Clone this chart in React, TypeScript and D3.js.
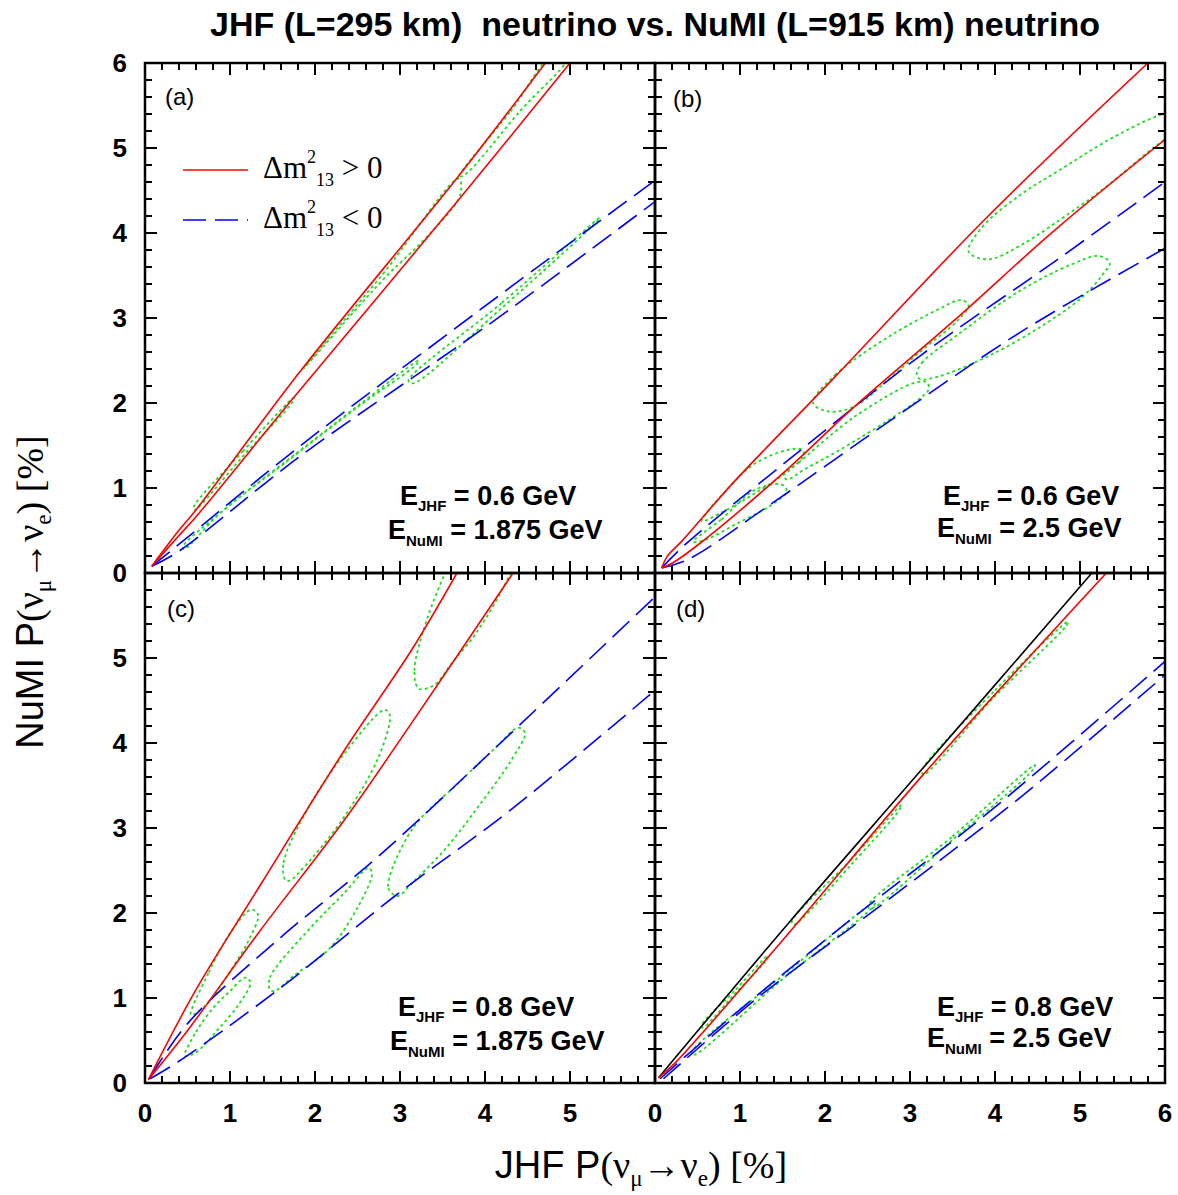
import React from 'react'
import * as d3 from 'd3'

// all curves are [JHF P, NuMI P] in percent

// (a) E_JHF = 0.6 GeV, E_NuMI = 1.875 GeV
const redA = [
  [[0.08, 0.08], [0.39, 0.49], [0.59, 0.73], [1.84, 2.39], [3.69, 4.67], [4.71, 6.0]],
  [[0.08, 0.08], [0.39, 0.43], [0.59, 0.65], [1.73, 2.04], [3.69, 4.39], [5.0, 6.0]],
]
const blueA = [
  [[0.08, 0.08], [0.39, 0.33], [1.82, 1.49], [3.92, 3.08], [6.0, 4.62]],
  [[0.08, 0.08], [0.39, 0.25], [1.82, 1.37], [4.04, 2.92], [6.0, 4.37]],
]
const greenA = [
  [[0.57, 0.77], [1.15, 1.43], [1.75, 2.06], [1.74, 2.02], [1.15, 1.37], [0.58, 0.74]],
  [[1.86, 2.4], [2.8, 3.52], [3.69, 4.64], [3.71, 4.45], [3.35, 3.99], [2.8, 3.45]],
  [[3.69, 4.66], [4.3, 5.43], [4.8, 6.1], [5.0, 6.1], [4.4, 5.42], [3.78, 4.7]],
  [[0.44, 0.3], [1.0, 0.8], [1.9, 1.5], [2.6, 2.04], [3.22, 2.5], [3.2, 2.46], [2.5, 1.95], [1.6, 1.26], [0.9, 0.72], [0.46, 0.28]],
  [[3.1, 2.26], [4.2, 3.18], [5.35, 4.18], [5.3, 4.12], [4.2, 3.12], [3.15, 2.23]],
]

// (b) E_JHF = 0.6 GeV, E_NuMI = 2.5 GeV
const redB = [
  [[0.08, 0.06], [0.14, 0.19], [0.33, 0.39], [0.9, 1.04], [2.12, 2.31], [3.92, 4.2], [5.8, 6.0]],
  [[0.08, 0.06], [0.21, 0.12], [0.53, 0.35], [1.49, 1.16], [2.35, 1.96], [3.53, 2.98], [4.71, 4.04], [6.0, 5.1]],
]
const blueB = [
  [[0.08, 0.06], [0.35, 0.33], [1.57, 1.33], [3.14, 2.57], [4.71, 3.67], [6.0, 4.6]],
  [[0.08, 0.06], [0.39, 0.16], [1.29, 0.76], [2.75, 1.78], [4.31, 2.84], [6.0, 3.82]],
]
const greenB = [
  [[0.55, 0.61], [0.9, 1.04], [1.18, 1.29], [1.57, 1.45], [1.73, 1.45], [1.75, 1.39], [1.57, 1.2], [1.18, 0.94], [0.78, 0.71]],
  [[0.45, 0.37], [0.78, 0.63], [1.18, 0.98], [1.49, 1.04], [1.55, 0.96], [1.37, 0.8], [0.98, 0.59], [0.59, 0.39]],
  [[1.86, 2.0], [2.12, 2.33], [2.75, 2.78], [3.33, 3.1], [3.6, 3.21], [3.69, 3.15], [3.57, 2.98], [3.14, 2.62], [2.75, 2.28], [2.35, 1.96], [2.04, 1.9]],
  [[1.51, 1.16], [1.69, 1.3], [2.35, 1.84], [3.06, 2.24], [3.2, 2.24], [3.22, 2.16], [3.1, 2.04], [2.75, 1.8], [2.16, 1.44], [1.76, 1.22], [1.55, 1.1]],
  [[3.69, 3.78], [3.85, 4.07], [4.3, 4.45], [4.76, 4.74], [5.4, 5.13], [6.0, 5.41], [6.6, 5.55], [6.8, 5.4], [6.4, 5.3], [6.0, 5.1], [5.29, 4.53], [4.9, 4.25], [4.31, 3.86], [3.92, 3.69]],
  [[3.08, 2.33], [3.14, 2.47], [3.53, 2.78], [4.31, 3.33], [4.9, 3.63], [5.22, 3.73], [5.35, 3.65], [5.25, 3.49], [5.02, 3.24], [4.51, 2.88], [3.92, 2.55], [3.33, 2.31], [3.12, 2.28]],
]

// (c) E_JHF = 0.8 GeV, E_NuMI = 1.875 GeV
const redC = [
  [[0.04, 0.04], [0.59, 1.08], [1.37, 2.35], [2.35, 3.92], [3.14, 5.1], [3.67, 6.0]],
  [[0.04, 0.04], [0.51, 0.63], [1.33, 1.76], [2.35, 3.1], [3.14, 4.24], [4.33, 6.0]],
]
const blueC = [
  [[0.06, 0.07], [0.51, 0.71], [1.57, 1.69], [2.75, 2.67], [4.31, 4.12], [6.0, 5.72]],
  [[0.06, 0.05], [0.39, 0.25], [1.57, 1.1], [2.94, 2.2], [4.31, 3.22], [6.0, 4.62]],
]
const greenC = [
  [[0.54, 0.8], [0.75, 1.3], [1.0, 1.76], [1.25, 2.04], [1.33, 1.98], [1.22, 1.68], [1.0, 1.31], [0.72, 0.92]],
  [[0.47, 0.32], [0.6, 0.6], [0.8, 0.88], [1.0, 1.08], [1.18, 1.24], [1.24, 1.18], [1.1, 0.92], [0.85, 0.62], [0.6, 0.36]],
  [[1.65, 2.39], [1.63, 2.59], [1.9, 3.2], [2.35, 3.88], [2.82, 4.39], [2.88, 4.33], [2.75, 3.84], [2.35, 3.14], [1.88, 2.55], [1.7, 2.38]],
  [[1.47, 1.1], [1.47, 1.24], [1.96, 1.84], [2.35, 2.24], [2.63, 2.53], [2.67, 2.47], [2.51, 2.08], [2.16, 1.57], [1.76, 1.27], [1.52, 1.08]],
  [[3.22, 4.64], [3.17, 4.85], [3.3, 5.4], [3.55, 6.05], [3.8, 6.6], [4.5, 6.6], [4.3, 6.0], [3.9, 5.3], [3.61, 4.94], [3.4, 4.68]],
  [[2.92, 2.22], [2.86, 2.31], [3.14, 2.98], [3.73, 3.57], [4.12, 3.94], [4.39, 4.18], [4.47, 4.12], [4.31, 3.8], [3.92, 3.25], [3.53, 2.75], [3.14, 2.35], [2.98, 2.2]],
]

// (d) E_JHF = 0.8 GeV, E_NuMI = 2.5 GeV
const blackD = [
  [[0.04, 0.06], [1.57, 1.88], [3.14, 3.69], [5.14, 6.0]],
]
const redD = [
  [[0.04, 0.06], [0.24, 0.24], [1.57, 1.76], [3.14, 3.61], [5.31, 6.0]],
]
const blueD = [
  [[0.06, 0.05], [0.9, 0.78], [2.35, 1.96], [3.92, 3.18], [6.0, 4.96]],
  [[0.1, 0.05], [1.18, 0.98], [2.75, 2.16], [4.31, 3.37], [6.0, 4.8]],
]
const greenD = [
  [[0.55, 0.68], [0.95, 1.1], [1.33, 1.5], [1.32, 1.46], [0.95, 1.06], [0.56, 0.65]],
  [[1.61, 1.9], [2.3, 2.62], [2.9, 3.27], [2.88, 3.22], [2.3, 2.56], [1.63, 1.86]],
  [[3.14, 3.67], [4.0, 4.62], [4.86, 5.43], [4.84, 5.38], [4.0, 4.55], [3.16, 3.63]],
  [[0.43, 0.36], [1.5, 1.26], [2.59, 2.13], [2.57, 2.08], [1.5, 1.22], [0.45, 0.33]],
  [[2.51, 2.09], [3.5, 2.9], [4.47, 3.74], [4.45, 3.69], [3.5, 2.86], [2.53, 2.05]],
]

const panelTags = ['(a)', '(b)', '(c)', '(d)']
const energyJHF = ['0.6', '0.6', '0.8', '0.8']
const energyNuMI = ['1.875', '2.5', '1.875', '2.5']
const yTickLabelsTop = [0, 1, 2, 3, 4, 5, 6]
const yTickLabelsBottom = [0, 1, 2, 3, 4, 5]
const xTickLabelsLeft = [0, 1, 2, 3, 4, 5]
const xTickLabelsRight = [0, 1, 2, 3, 4, 5, 6]

const SIZE = 510
const RED = '#ff0000'
const BLUE = '#0000ff'
const GREEN = '#22dd22'
const SANS = "'Liberation Sans', Arial, Helvetica, sans-serif"
const SERIF = "'Liberation Serif', 'Times New Roman', 'DejaVu Serif', serif"

const panels = [
  { key: 'a', left: 145, top: 63, red: redA, blue: blueA, green: greenA, black: [],
    tag: { x: 165, y: 105 }, e1: { x: 400, y: 505 }, e2: { x: 388, y: 539 }, legend: true },
  { key: 'b', left: 655, top: 63, red: redB, blue: blueB, green: greenB, black: [],
    tag: { x: 673, y: 107 }, e1: { x: 943, y: 505 }, e2: { x: 937, y: 537 } },
  { key: 'c', left: 145, top: 573, red: redC, blue: blueC, green: greenC, black: [],
    tag: { x: 167, y: 617 }, e1: { x: 398, y: 1016 }, e2: { x: 390, y: 1050 } },
  { key: 'd', left: 655, top: 573, red: redD, blue: blueD, green: greenD, black: blackD,
    tag: { x: 676, y: 617 }, e1: { x: 937, y: 1016 }, e2: { x: 927, y: 1047 } },
]

function Panel({ p, idx }: { p: any; idx: number }) {
  const x = d3.scaleLinear().domain([0, 6]).range([p.left, p.left + SIZE])
  const y = d3.scaleLinear().domain([0, 6]).range([p.top + SIZE, p.top])
  const line = d3.line<number[]>().x(d => x(d[0])).y(d => y(d[1])).curve(d3.curveCatmullRom.alpha(0.5))
  const loop = d3.line<number[]>().x(d => x(d[0])).y(d => y(d[1])).curve(d3.curveCatmullRomClosed.alpha(0.5))
  const ticks = x.ticks(30)
  const clipId = 'clip-' + p.key
  const tickLen = (t: number) => (Math.abs(t - Math.round(t)) < 1e-6 ? 12 : 7)

  return (
    <g>
      <defs>
        <clipPath id={clipId}>
          <rect x={p.left} y={p.top} width={SIZE} height={SIZE} />
        </clipPath>
      </defs>
      <g clipPath={`url(#${clipId})`} fill="none">
        {p.green.map((d: number[][], i: number) => (
          <path key={'g' + i} d={loop(d) || ''} stroke={GREEN} strokeWidth={1.8} strokeDasharray="3,3" />
        ))}
        {p.blue.map((d: number[][], i: number) => (
          <path key={'b' + i} d={line(d) || ''} stroke={BLUE} strokeWidth={1.6} strokeDasharray="23,9" />
        ))}
        {p.black.map((d: number[][], i: number) => (
          <path key={'k' + i} d={line(d) || ''} stroke="#000" strokeWidth={1.6} />
        ))}
        {p.red.map((d: number[][], i: number) => (
          <path key={'r' + i} d={line(d) || ''} stroke={RED} strokeWidth={1.6} />
        ))}
      </g>
      {/* ticks pointing inward on every side */}
      <g stroke="#000" strokeWidth={2}>
        {ticks.map(t => {
          const L = tickLen(t)
          return (
            <g key={'t' + t}>
              <line x1={x(t)} x2={x(t)} y1={p.top + SIZE} y2={p.top + SIZE - L} />
              <line x1={x(t)} x2={x(t)} y1={p.top} y2={p.top + L} />
              <line y1={y(t)} y2={y(t)} x1={p.left} x2={p.left + L} />
              <line y1={y(t)} y2={y(t)} x1={p.left + SIZE} x2={p.left + SIZE - L} />
            </g>
          )
        })}
      </g>
      <rect x={p.left} y={p.top} width={SIZE} height={SIZE} fill="none" stroke="#000" strokeWidth={2.5} />
      <text x={p.tag.x} y={p.tag.y} fontFamily={SANS} fontSize={24}>{panelTags[idx]}</text>
      <text x={p.e1.x} y={p.e1.y} fontFamily={SANS} fontSize={27} fontWeight="bold" style={{ whiteSpace: 'pre' }}>
        E<tspan fontSize={15} dy={6}>JHF</tspan><tspan dy={-6}>{' = ' + energyJHF[idx] + ' GeV'}</tspan>
      </text>
      <text x={p.e2.x} y={p.e2.y} fontFamily={SANS} fontSize={27} fontWeight="bold" style={{ whiteSpace: 'pre' }}>
        E<tspan fontSize={15} dy={7}>NuMI</tspan><tspan dy={-7}>{' = ' + energyNuMI[idx] + ' GeV'}</tspan>
      </text>
      {p.legend && (
        <g>
          <line x1={183} x2={248} y1={170} y2={170} stroke={RED} strokeWidth={1.6} />
          <line x1={183} x2={248} y1={220} y2={220} stroke={BLUE} strokeWidth={1.6} strokeDasharray="23,9" />
          <text x={263} y={178} fontFamily={SERIF} fontSize={31} style={{ whiteSpace: 'pre' }}>
            Δm<tspan fontSize={18} dy={-15}>2</tspan><tspan fontSize={18} dy={23}>13</tspan><tspan dy={-8}>{' > 0'}</tspan>
          </text>
          <text x={263} y={228} fontFamily={SERIF} fontSize={31} style={{ whiteSpace: 'pre' }}>
            Δm<tspan fontSize={18} dy={-15}>2</tspan><tspan fontSize={18} dy={23}>13</tspan><tspan dy={-8}>{' < 0'}</tspan>
          </text>
        </g>
      )}
    </g>
  )
}

export default function App() {
  const yTop = d3.scaleLinear().domain([0, 6]).range([573, 63])
  const yBot = d3.scaleLinear().domain([0, 6]).range([1083, 573])
  const xLeft = d3.scaleLinear().domain([0, 6]).range([145, 655])
  const xRight = d3.scaleLinear().domain([0, 6]).range([655, 1165])

  return (
    <svg width={1178} height={1195} style={{ position: 'absolute', left: 0, top: 0, background: '#fff' }}>
      <rect width={1178} height={1195} fill="#fff" />
      <text x={655} y={36} textAnchor="middle" fontFamily="'Liberation Sans Narrow', 'Arial Narrow', 'Liberation Sans', Arial, sans-serif"
        fontWeight="bold" fontSize={33} textLength={890} lengthAdjust="spacingAndGlyphs" style={{ whiteSpace: 'pre' }}>
        JHF (L=295 km)  neutrino vs. NuMI (L=915 km) neutrino
      </text>
      {panels.map((p, i) => <Panel key={p.key} p={p} idx={i} />)}
      <g fontFamily={SANS} fontWeight="bold" fontSize={26}>
        {yTickLabelsTop.map(v => (
          <text key={'yt' + v} x={127} y={yTop(v) + 9} textAnchor="end">{v}</text>
        ))}
        {yTickLabelsBottom.map(v => (
          <text key={'yb' + v} x={127} y={yBot(v) + 9} textAnchor="end">{v}</text>
        ))}
        {xTickLabelsLeft.map(v => (
          <text key={'xl' + v} x={xLeft(v)} y={1122} textAnchor="middle">{v}</text>
        ))}
        {xTickLabelsRight.map(v => (
          <text key={'xr' + v} x={xRight(v)} y={1122} textAnchor="middle">{v}</text>
        ))}
      </g>
      <text x={641} y={1178} textAnchor="middle" fontSize={38} style={{ whiteSpace: 'pre' }}>
        <tspan fontFamily={SANS}>JHF P</tspan>
        <tspan fontFamily={SERIF}>(ν</tspan>
        <tspan fontFamily={SERIF} fontSize={23} dy={8}>μ</tspan>
        <tspan fontFamily={SERIF} dy={-8}>→ν</tspan>
        <tspan fontFamily={SERIF} fontSize={23} dy={8}>e</tspan>
        <tspan fontFamily={SERIF} dy={-8}>) [%]</tspan>
      </text>
      <text transform="translate(43,592) rotate(-90)" textAnchor="middle" fontSize={38} style={{ whiteSpace: 'pre' }}>
        <tspan fontFamily={SANS}>NuMI P</tspan>
        <tspan fontFamily={SERIF}>(ν</tspan>
        <tspan fontFamily={SERIF} fontSize={23} dy={8}>μ</tspan>
        <tspan fontFamily={SERIF} dy={-8}>→ν</tspan>
        <tspan fontFamily={SERIF} fontSize={23} dy={8}>e</tspan>
        <tspan fontFamily={SERIF} dy={-8}>) [%]</tspan>
      </text>
    </svg>
  )
}
